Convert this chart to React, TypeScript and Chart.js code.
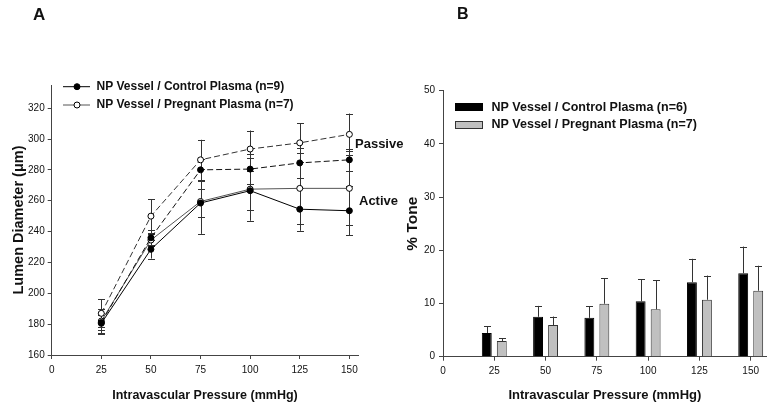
import React, { useEffect, useRef } from "react";
import { Chart, registerables } from "chart.js";

Chart.register(...registerables);

// ---------- data ----------
const pressures = [25, 50, 75, 100, 125, 150];
const xTickValues = [0, 25, 50, 75, 100, 125, 150];
const diameterTicks = [160, 180, 200, 220, 240, 260, 280, 300, 320];
const toneTicks = [0, 10, 20, 30, 40, 50];

// Panel A: lumen diameter (µm), mean and SEM
const ctrlPassive = [181, 236, 280, 280.5, 284.5, 286.5];
const ctrlPassiveErr = [5, 5, 7, 9.5, 9.7, 7];
const pregPassive = [187, 250, 286.5, 293.5, 297.5, 303];
const pregPassiveErr = [9, 11, 13, 12, 12.6, 13.5];
const ctrlActive = [180.5, 228.5, 258.5, 266.5, 254.5, 253.5];
const ctrlActiveErr = [7, 6, 9, 12.5, 14, 16];
const pregActive = [182, 234.5, 259.5, 267.5, 268, 268];
const pregActiveErr = [8, 4, 21, 20.5, 23, 24];

// Panel B: % tone, mean and SEM
const toneCtrl = [4.45, 7.5, 7.3, 10.4, 14.0, 15.7];
const toneCtrlErr = [1.3, 2.05, 2.15, 4.2, 4.4, 5.0];
const tonePreg = [2.95, 5.95, 9.95, 8.9, 10.7, 12.4];
const tonePregErr = [0.5, 1.6, 4.75, 5.5, 4.55, 4.7];

const legendA = ["NP Vessel / Control Plasma (n=9)", "NP Vessel / Pregnant Plasma (n=7)"];
const legendB = ["NP Vessel / Control Plasma (n=6)", "NP Vessel / Pregnant Plasma (n=7)"];

const FAMILY = '"Liberation Sans", Arial, Helvetica, sans-serif';
const AXIS = "#444";
const TXT = "#111";

const pts = (ys: number[]) => pressures.map((x, i) => ({ x, y: ys[i] }));

function errorBarPlugin(errs: (number[] | null)[], upOnly: boolean, capHalf: number, id: string) {
  return {
    id,
    [upOnly ? "afterDatasetsDraw" : "beforeDatasetsDraw"]: (chart: any) => {
      const ctx = chart.ctx;
      const yScale = chart.scales.y;
      ctx.save();
      ctx.strokeStyle = "#333";
      ctx.lineWidth = 1;
      errs.forEach((err, di) => {
        if (!err) return;
        const meta = chart.getDatasetMeta(di);
        const ds = chart.data.datasets[di];
        meta.data.forEach((el: any, j: number) => {
          const v = (ds.data[j] as any).y;
          const x = Math.round(el.x) + 0.5;
          const yTop = yScale.getPixelForValue(v + err[j]);
          const yBot = upOnly ? yScale.getPixelForValue(v) : yScale.getPixelForValue(v - err[j]);
          ctx.beginPath();
          ctx.moveTo(x, yBot);
          ctx.lineTo(x, yTop);
          ctx.moveTo(x - capHalf, Math.round(yTop) + 0.5);
          ctx.lineTo(x + capHalf, Math.round(yTop) + 0.5);
          if (!upOnly) {
            ctx.moveTo(x - capHalf, Math.round(yBot) + 0.5);
            ctx.lineTo(x + capHalf, Math.round(yBot) + 0.5);
          }
          ctx.stroke();
        });
      });
      ctx.restore();
    },
  };
}

const annotationsA = {
  id: "annA",
  afterDraw: (chart: any) => {
    const ctx = chart.ctx;
    ctx.save();
    ctx.fillStyle = TXT;
    ctx.textBaseline = "middle";
    ctx.textAlign = "left";
    ctx.font = `bold 17px ${FAMILY}`;
    ctx.fillText("A", 33, 15);
    // legend
    const rows = [86.7, 105];
    const colors = ["#000", "#555"];
    rows.forEach((y, i) => {
      ctx.strokeStyle = colors[i];
      ctx.lineWidth = 1;
      ctx.beginPath();
      ctx.moveTo(63, y);
      ctx.lineTo(90, y);
      ctx.stroke();
      ctx.beginPath();
      ctx.arc(77, y, 3, 0, Math.PI * 2);
      ctx.fillStyle = i === 0 ? "#000" : "#fff";
      ctx.fill();
      ctx.strokeStyle = "#000";
      ctx.stroke();
      ctx.fillStyle = TXT;
      ctx.font = `bold 12px ${FAMILY}`;
      ctx.fillText(legendA[i], 96.5, y);
    });
    ctx.font = `bold 13px ${FAMILY}`;
    ctx.fillText("Passive", 355, 144);
    ctx.fillText("Active", 359, 201);
    ctx.restore();
  },
};

const annotationsB = {
  id: "annB",
  afterDraw: (chart: any) => {
    const ctx = chart.ctx;
    ctx.save();
    ctx.fillStyle = TXT;
    ctx.textBaseline = "middle";
    ctx.textAlign = "left";
    ctx.font = `bold 16px ${FAMILY}`;
    ctx.fillText("B", 57, 15);
    // legend boxes
    ctx.fillStyle = "#000";
    ctx.fillRect(55, 103, 28, 8);
    ctx.fillStyle = "#c0c0c0";
    ctx.fillRect(55, 121, 28, 7.5);
    ctx.strokeStyle = "#333";
    ctx.lineWidth = 1;
    ctx.strokeRect(55.5, 121.5, 27, 7);
    ctx.fillStyle = TXT;
    ctx.font = `bold 12.5px ${FAMILY}`;
    ctx.fillText(legendB[0], 91.5, 107.5);
    ctx.fillText(legendB[1], 91.5, 125);
    ctx.restore();
  },
};

function commonAxis(extra: any) {
  return {
    grid: { drawOnChartArea: false, drawTicks: true, tickLength: 4, color: AXIS },
    border: { display: true, color: AXIS, width: 1 },
    ...extra,
  };
}

function ChartA() {
  const ref = useRef<HTMLCanvasElement>(null);
  useEffect(() => {
    const lineBase = { borderWidth: 1, pointRadius: 3, pointBorderWidth: 1, pointBorderColor: "#000", tension: 0 };
    const chart = new Chart(ref.current!, {
      type: "line",
      data: {
        datasets: [
          { ...lineBase, label: "Control passive", data: pts(ctrlPassive), borderColor: "#111", borderDash: [6, 3], pointBackgroundColor: "#000" },
          { ...lineBase, label: "Pregnant passive", data: pts(pregPassive), borderColor: "#333", borderDash: [6, 3], pointBackgroundColor: "#fff" },
          { ...lineBase, label: "Control active", data: pts(ctrlActive), borderColor: "#000", pointBackgroundColor: "#000" },
          { ...lineBase, label: "Pregnant active", data: pts(pregActive), borderColor: "#555", pointBackgroundColor: "#fff" },
        ],
      },
      options: {
        responsive: false,
        animation: false,
        devicePixelRatio: 1,
        layout: { padding: { left: 0, right: 81.7, top: 85, bottom: 0 } },
        plugins: { legend: { display: false }, tooltip: { enabled: false } },
        scales: {
          x: commonAxis({
            type: "linear",
            min: 0,
            max: 154.5,
            afterBuildTicks: (s: any) => { s.ticks = xTickValues.map((v) => ({ value: v })); },
            afterFit: (s: any) => { s.height = 57; },
            ticks: { font: { family: FAMILY, size: 10 }, color: TXT, padding: 5, maxRotation: 0, autoSkip: false },
            title: { display: true, text: "Intravascular Pressure (mmHg)", font: { family: FAMILY, size: 12.5, weight: "bold" }, color: TXT, padding: { top: 0, bottom: 9 } },
          }),
          y: commonAxis({
            type: "linear",
            min: 160,
            max: 335,
            afterBuildTicks: (s: any) => { s.ticks = diameterTicks.map((v) => ({ value: v })); },
            afterFit: (s: any) => { s.width = 51.7; },
            ticks: { font: { family: FAMILY, size: 10 }, color: TXT, padding: 3, autoSkip: false },
            title: { display: true, text: "Lumen Diameter (\u03bcm)", font: { family: FAMILY, size: 14.5, weight: "bold" }, color: TXT, padding: { top: 10, bottom: 0 } },
          }),
        },
      },
      plugins: [errorBarPlugin([ctrlPassiveErr, pregPassiveErr, ctrlActiveErr, pregActiveErr], false, 3.5, "errA"), annotationsA],
    } as any);
    return () => chart.destroy();
  }, []);
  return <canvas ref={ref} width={440} height={412} style={{ position: "absolute", left: 0, top: 0, width: 440, height: 412 }} />;
}

function ChartB() {
  const ref = useRef<HTMLCanvasElement>(null);
  useEffect(() => {
    const chart = new Chart(ref.current!, {
      type: "bar",
      data: {
        datasets: [
          { label: legendB[0], data: pts(toneCtrl), backgroundColor: "#000", borderColor: "#000", borderWidth: 1 },
          { label: legendB[1], data: pts(tonePreg), backgroundColor: "#c0c0c0", borderColor: "#333", borderWidth: 1 },
        ],
      },
      options: {
        responsive: false,
        animation: false,
        devicePixelRatio: 1,
        categoryPercentage: 0.585,
        barPercentage: 0.66,
        layout: { padding: { left: 0, right: 13.3, top: 90.7, bottom: 0 } },
        plugins: { legend: { display: false }, tooltip: { enabled: false } },
        scales: {
          x: commonAxis({
            type: "linear",
            min: 0,
            max: 157.8,
            offset: false,
            grid: { drawOnChartArea: false, drawTicks: true, tickLength: 4, color: AXIS, offset: false },
            afterBuildTicks: (s: any) => { s.ticks = xTickValues.map((v) => ({ value: v })); },
            afterFit: (s: any) => { s.height = 55.3; },
            ticks: { font: { family: FAMILY, size: 10 }, color: TXT, padding: 5, maxRotation: 0, autoSkip: false },
            title: { display: true, text: "Intravascular Pressure (mmHg)", font: { family: FAMILY, size: 13, weight: "bold" }, color: TXT, padding: { top: 0, bottom: 9 } },
          }),
          y: commonAxis({
            type: "linear",
            min: 0,
            max: 50,
            afterBuildTicks: (s: any) => { s.ticks = toneTicks.map((v) => ({ value: v })); },
            afterFit: (s: any) => { s.width = 43; },
            ticks: { font: { family: FAMILY, size: 10 }, color: TXT, padding: 4, autoSkip: false },
            title: { display: true, text: "% Tone", font: { family: FAMILY, size: 15.5, weight: "bold" }, color: TXT, padding: { top: 3.7, bottom: 0 } },
          }),
        },
      },
      plugins: [errorBarPlugin([toneCtrlErr, tonePregErr], true, 3.5, "errB"), annotationsB],
    } as any);
    return () => chart.destroy();
  }, []);
  return <canvas ref={ref} width={380} height={412} style={{ position: "absolute", left: 400, top: 0, width: 380, height: 412 }} />;
}

export default function App() {
  return (
    <div style={{ position: "fixed", left: 0, top: 0, width: 780, height: 412, background: "#fff", overflow: "hidden" }}>
      <ChartA />
      <ChartB />
    </div>
  );
}
